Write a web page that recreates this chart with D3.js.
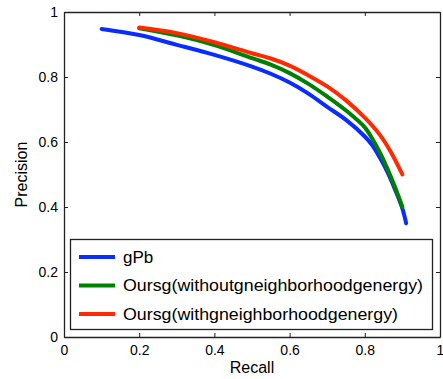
<!DOCTYPE html>
<html lang="en">
  <head>
    <meta charset="UTF-8" />
    <title>Precision / Recall</title>
    <script src="https://d3js.org/d3.v7.min.js"></script>
    <style>
      body {
        margin: 0;
        background-color: #fff;
      }
      svg text {
        font-family: "Liberation Sans", Arial, sans-serif;
        fill: #000;
      }
    </style>
  </head>
  <body>
    <svg id="chart" width="443" height="379"></svg>
    <script>
      // valores
      const gpbRecall = [0.1, 0.2, 0.3, 0.4, 0.5, 0.55, 0.6, 0.65, 0.7, 0.75, 0.8, 0.82, 0.84, 0.86, 0.88, 0.9, 0.91];
      const gpbPrecision = [0.948, 0.929, 0.899, 0.868, 0.832, 0.81, 0.783, 0.749, 0.708, 0.668, 0.617, 0.59, 0.552, 0.508, 0.455, 0.395, 0.35];

      const withoutRecall = [0.2, 0.3, 0.4, 0.5, 0.55, 0.6, 0.65, 0.7, 0.75, 0.8, 0.82, 0.84, 0.86, 0.88, 0.9];
      const withoutPrecision = [0.95, 0.928, 0.898, 0.858, 0.838, 0.812, 0.779, 0.74, 0.697, 0.645, 0.61, 0.568, 0.518, 0.462, 0.4];

      const withRecall = [0.2, 0.3, 0.4, 0.5, 0.55, 0.6, 0.65, 0.7, 0.75, 0.8, 0.84, 0.87, 0.9];
      const withPrecision = [0.952, 0.935, 0.907, 0.873, 0.857, 0.835, 0.805, 0.771, 0.728, 0.675, 0.622, 0.568, 0.5];

      const seriesNames = [
        "gPb",
        "Oursg(withoutgneighborhoodgenergy)",
        "Oursg(withgneighborhoodgenergy)",
      ];
      const seriesColors = ["#0a2dff", "#008000", "#ff2a00"];
      const ticks = [0, 0.2, 0.4, 0.6, 0.8, 1];

      const series = [
        gpbRecall.map((r, i) => [r, gpbPrecision[i]]),
        withoutRecall.map((r, i) => [r, withoutPrecision[i]]),
        withRecall.map((r, i) => [r, withPrecision[i]]),
      ];

      const mLeft = 64, mRight = 440, mTop = 12, mBottom = 337;
      const svg = d3.select("#chart");
      const x = d3.scaleLinear().domain([0, 1]).range([mLeft, mRight]);
      const y = d3.scaleLinear().domain([0, 1]).range([mBottom, mTop]);

      const fmt = (d) => (d === 0 || d === 1 ? d3.format("d")(d) : d3.format(".1f")(d));

      // ejes estilo matlab, ticks hacia adentro
      svg.append("g").attr("transform", `translate(0,${mBottom})`)
        .call(d3.axisBottom(x).tickValues(ticks).tickFormat(fmt).tickSizeInner(-4).tickSizeOuter(0).tickPadding(8));
      svg.append("g").attr("transform", `translate(${mLeft},0)`)
        .call(d3.axisLeft(y).tickValues(ticks).tickFormat(fmt).tickSizeInner(-4).tickSizeOuter(0).tickPadding(6));
      svg.append("g").attr("transform", `translate(0,${mTop})`)
        .call(d3.axisTop(x).tickValues(ticks).tickFormat("").tickSizeInner(-4).tickSizeOuter(0));
      svg.append("g").attr("transform", `translate(${mRight},0)`)
        .call(d3.axisRight(y).tickValues(ticks).tickFormat("").tickSizeInner(-4).tickSizeOuter(0));

      svg.selectAll(".domain").attr("stroke", "#222").attr("stroke-width", 1.3);
      svg.selectAll(".tick line").attr("stroke", "#222");
      svg.selectAll(".tick text").attr("font-size", 14).style("font-family", "'Liberation Sans', Arial, sans-serif");

      svg.append("text").attr("x", (mLeft + mRight) / 2).attr("y", 373)
        .attr("text-anchor", "middle").attr("font-size", 16).text("Recall");
      svg.append("text").attr("transform", `translate(27,${(mTop + mBottom) / 2}) rotate(-90)`)
        .attr("text-anchor", "middle").attr("font-size", 16).text("Precision");

      const line = d3.line().x((d) => x(d[0])).y((d) => y(d[1])).curve(d3.curveCatmullRom.alpha(0.5));

      series.forEach((s, i) => {
        svg.append("path").datum(s).attr("d", line)
          .attr("fill", "none").attr("stroke", seriesColors[i])
          .attr("stroke-width", 4).attr("stroke-linecap", "round");
      });

      // leyenda
      const legend = svg.append("g");
      legend.append("rect").attr("x", 70.5).attr("y", 239.5).attr("width", 362).attr("height", 90)
        .attr("fill", "#fff").attr("stroke", "#222").attr("stroke-width", 1.3);
      const rowY = [257, 285.5, 314];
      const textLen = [null, 300, 275];
      seriesNames.forEach((name, i) => {
        legend.append("line").attr("x1", 79).attr("x2", 115).attr("y1", rowY[i]).attr("y2", rowY[i])
          .attr("stroke", seriesColors[i]).attr("stroke-width", 4);
        const t = legend.append("text").attr("x", 123).attr("y", rowY[i]).attr("dy", "0.35em")
          .attr("font-size", 17).text(name);
        if (textLen[i]) t.attr("textLength", textLen[i]).attr("lengthAdjust", "spacingAndGlyphs");
      });
    </script>
  </body>
</html>
